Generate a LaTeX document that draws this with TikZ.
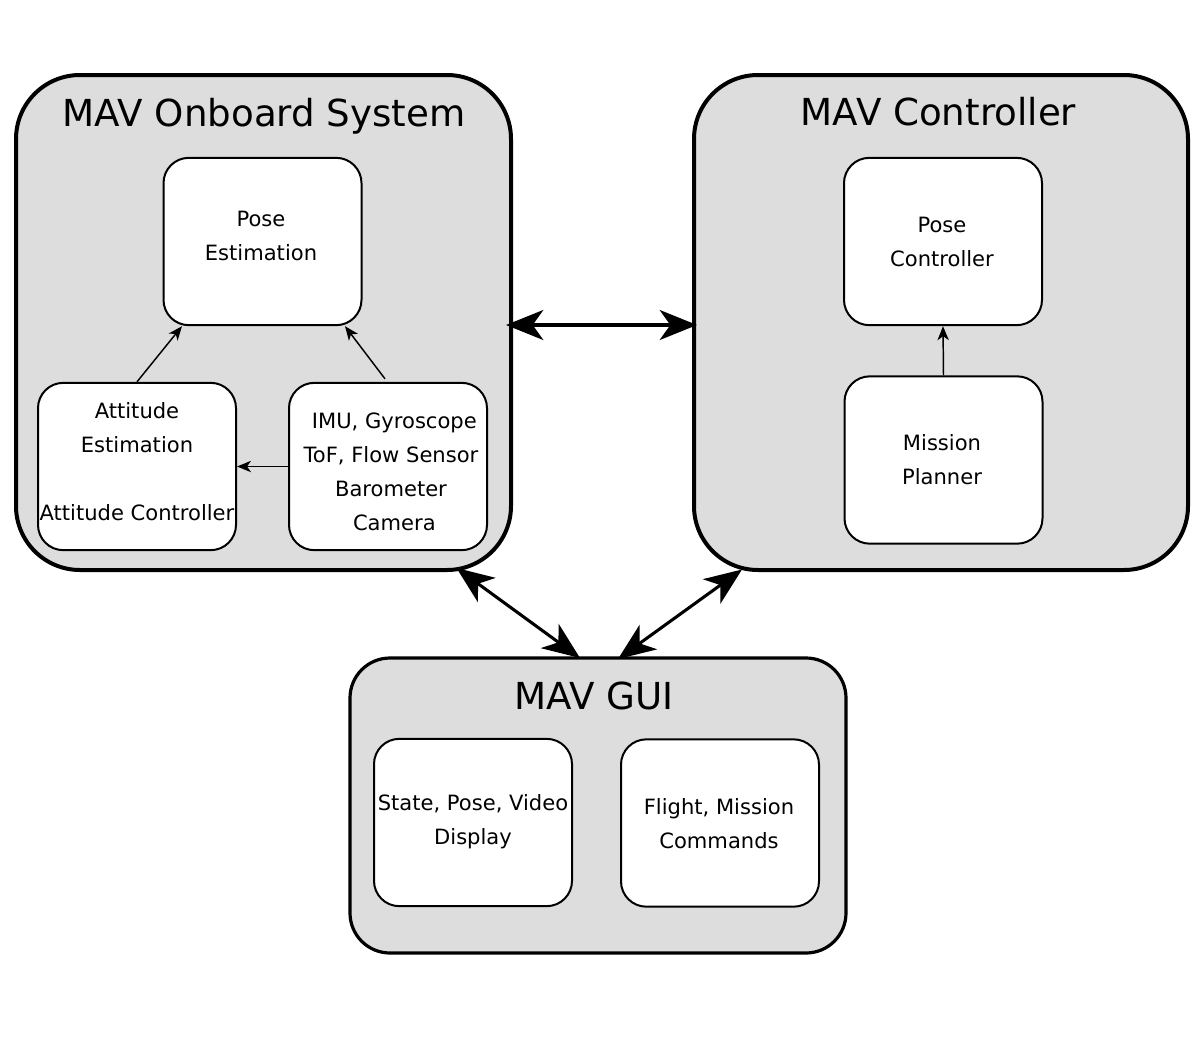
\documentclass[tikz,border=0pt]{standalone}
\usepackage{fontspec}
\setmainfont{DejaVu Sans}
\usetikzlibrary{arrows.meta,calc}
\definecolor{boxgray}{HTML}{DDDDDD}
\begin{document}
\begin{tikzpicture}[x=0.75pt,y=-0.75pt,
  outerbox/.style={draw, line width=3pt, fill=boxgray, rounded corners=48pt, inner sep=0pt},
  guibox/.style={draw, line width=2.4pt, fill=boxgray, rounded corners=30pt, inner sep=0pt},
  innerbox/.style={draw, line width=1.5pt, fill=white, rounded corners=19pt, inner sep=0pt, minimum width=148.5pt, minimum height=125.5pt},
  title/.style={font=\fontsize{27.9pt}{33pt}\selectfont, inner sep=0pt, anchor=base},
  lbl/.style={font=\fontsize{15.8pt}{25.5pt}\selectfont, align=center, inner sep=0pt},
  bigarrow/.style={line width=2.3pt, {Stealth[length=28pt,width=22.5pt,inset=8pt]}-{Stealth[length=28pt,width=22.5pt,inset=8pt]}},
  smallarrow/.style={line width=1.1pt, -{Stealth[length=10.5pt,width=8.5pt,inset=3pt]}}]
\useasboundingbox (0,0) rectangle (1200,1050);

% outer boxes
\node[outerbox, minimum width=371.25pt, minimum height=371.25pt] (onb) at (263.5,322.5) {};
\node[outerbox, minimum width=370.5pt, minimum height=371.25pt] (ctl) at (941,322.5) {};
\node[guibox, minimum width=372pt, minimum height=221.25pt] (gui) at (598,805.5) {};

\node[title] (tonb) at (264,126.7) {MAV Onboard System};
\node[title] (tctl) at (938.5,125) {MAV Controller};
\node[title] (tgui) at (594,709.3) {MAV GUI};

% inner boxes
\node[innerbox] (pe) at (262.5,241.5) {};
\node[innerbox] (att) at (137,466.5) {};
\node[innerbox] (imu) at (388,466.5) {};
\node[innerbox] (pc) at (943,241.5) {};
\node[innerbox] (mp) at (943.5,460) {};
\node[innerbox] (sp) at (473,822.5) {};
\node[innerbox] (fm) at (720,823) {};

% labels
\node[lbl] (lpe) at (261,236) {Pose\\Estimation};
\node[lbl] (latt) at (137,462) {Attitude\\Estimation\\[25.5pt]Attitude Controller};
\node[lbl] (limu) at (391,472) {\ IMU, Gyroscope\\ToF, Flow Sensor\\Barometer\\\ Camera};
\node[lbl] (lpc) at (942,242) {Pose\\Controller};
\node[lbl] (lmp) at (942,460) {Mission\\Planner};
\node[lbl] (lsp) at (473,822) {State, Pose, Video\\Display};
\node[lbl] (lfm) at (719,824) {Flight, Mission\\Commands};

% connector end points
\coordinate (onbE) at ($(onb.center)+(242.5,2.5)$);
\coordinate (ctlW) at ($(ctl.center)+(-244,2.5)$);
\coordinate (onbS) at ($(onb.center)+(193,245.5)$);
\coordinate (ctlS) at ($(ctl.center)+(-199,247)$);
\coordinate (gl) at ($(gui.center)+(-18,-147.5)$);
\coordinate (gr) at ($(gui.center)+(20,-146.5)$);

% connectors between outer boxes
\draw[bigarrow] (onbE) -- (ctlW);
\draw[bigarrow] (onbS) -- (gl);
\draw[bigarrow] (ctlS) -- (gr);

% inner connectors
\coordinate (pel) at ($(pe.south)+(-80.5,0)$);
\coordinate (per) at ($(pe.south)+(82.5,0)$);
\draw[smallarrow] (att.north) -- (pel);
\draw[smallarrow] ($(imu.north)+(-3,-3)$) -- (per);
\draw[smallarrow] (imu.west) -- (att.east);
\draw[smallarrow] (mp.north) -- (pc.south);
\end{tikzpicture}
\end{document}
